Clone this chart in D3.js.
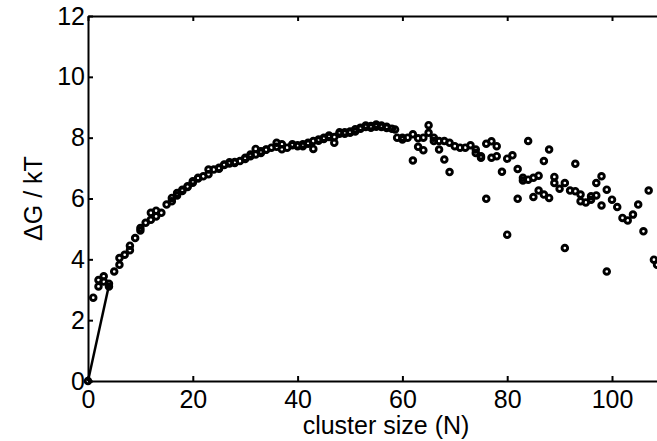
<!DOCTYPE html>
<html>
<head>
<meta charset="utf-8">
<script src="https://cdn.jsdelivr.net/npm/d3@7"></script>
<style>
  body { margin: 0; background: #fff; }
  svg { display: block; font-family: "Liberation Sans", Arial, sans-serif; }
</style>
</head>
<body>
<div id="chart"></div>
<script>
// run A: main curve, [cluster size N, dG/kT]
var runA = [
  [0, 0], [1, 2.74], [2, 3.11], [3, 3.27], [4, 3.11], [5, 3.60], [6, 3.82], [7, 4.15], [8, 4.45],
  [9, 4.70], [10, 4.95], [11, 5.20], [12, 5.30], [13, 5.41], [14, 5.53], [15, 5.80], [16, 5.91],
  [17, 6.10], [18, 6.25], [19, 6.38], [20, 6.52], [21, 6.66], [22, 6.73], [23, 6.80], [24, 6.95],
  [25, 7.01], [26, 7.10], [27, 7.19], [28, 7.20], [29, 7.23], [30, 7.30], [31, 7.39], [32, 7.45],
  [33, 7.55], [34, 7.61], [35, 7.67], [36, 7.70], [37, 7.78], [38, 7.67], [39, 7.75], [40, 7.72],
  [41, 7.78], [42, 7.83], [43, 7.89], [44, 7.94], [45, 7.96], [46, 8.07], [47, 8.02], [48, 8.18],
  [49, 8.13], [50, 8.16], [51, 8.20], [52, 8.29], [53, 8.40], [54, 8.38], [55, 8.36], [56, 8.40],
  [57, 8.36], [58, 8.29], [59, 8.00], [60, 7.94], [61, 8.00], [62, 8.11], [63, 7.98], [64, 8.00],
  [65, 8.41], [66, 8.00], [67, 7.61], [68, 7.89], [69, 7.83], [70, 7.72], [71, 7.67], [72, 7.67],
  [73, 7.75], [74, 7.61], [75, 7.39], [76, 7.80], [77, 7.88], [78, 7.72], [79, 6.88], [80, 7.31],
  [81, 7.42], [82, 6.97], [83, 6.68], [84, 7.89], [85, 6.68], [86, 6.75], [87, 7.23], [88, 7.61],
  [89, 6.71], [90, 6.32], [91, 6.51], [92, 6.26], [93, 6.24], [94, 6.13], [95, 5.87], [96, 5.96],
  [97, 6.10], [98, 6.73], [99, 6.29], [100, 5.96], [101, 5.72], [102, 5.36], [103, 5.28],
  [104, 5.47], [105, 5.80], [106, 4.92], [107, 6.26], [108, 3.99]
];

// run B: second set of points
var runB = [
  [2, 3.32], [3, 3.44], [4, 3.20], [6, 4.04], [8, 4.30], [10, 5.03], [12, 5.53], [13, 5.60],
  [16, 6.02], [17, 6.18], [18, 6.29], [19, 6.40], [20, 6.57], [21, 6.68], [23, 6.95], [25, 6.98],
  [26, 7.12], [27, 7.15], [28, 7.17], [30, 7.34], [31, 7.45], [32, 7.63], [33, 7.50], [34, 7.60],
  [36, 7.83], [37, 7.62], [39, 7.78], [40, 7.75], [41, 7.72], [42, 7.80], [43, 7.63], [44, 7.90],
  [45, 8.00], [46, 8.02], [47, 7.83], [48, 8.13], [49, 8.18], [50, 8.20], [51, 8.28], [52, 8.33],
  [53, 8.35], [54, 8.33], [55, 8.43], [56, 8.35], [57, 8.32], [58.6, 8.27], [60, 8.00],
  [62, 7.25], [63, 7.70], [64, 7.59], [65, 8.16], [66, 7.89], [67, 7.89], [68, 7.28], [69, 6.87],
  [74, 7.50], [75, 7.34], [76, 5.99], [77, 7.34], [78, 7.39], [80, 4.81], [82, 5.99], [83, 6.59],
  [84, 6.62], [85, 6.05], [86, 6.26], [87, 6.13], [88, 6.02], [89, 6.51], [91, 4.37], [93, 7.14],
  [94, 5.91], [96, 6.07], [97, 6.51], [98, 5.77], [99, 3.60], [108.6, 3.82]
];

// straight segment from the origin
var fitLine = [[0, 0], [4, 3.15]];

var xTicks = [0, 20, 40, 60, 80, 100];
var yTicks = [0, 2, 4, 6, 8, 10, 12];

var W = 657, H = 441;

var svg = d3.select("#chart").append("svg")
    .attr("width", W)
    .attr("height", H);

var x = d3.scaleLinear().domain([0, 110]).range([88, 88 + 110 * 5.24]);
var y = d3.scaleLinear().domain([0, 12]).range([381, 16]);

// axes, ticks pointing inward
var gx = svg.append("g")
    .attr("transform", "translate(0," + y(0) + ")")
    .call(d3.axisBottom(x).tickValues(xTicks).tickSizeInner(-5).tickSizeOuter(0).tickPadding(9));

var gxTop = svg.append("g")
    .attr("transform", "translate(0," + y(12) + ")")
    .call(d3.axisTop(x).tickValues(xTicks).tickSizeInner(-5).tickSizeOuter(0).tickFormat(""));

var gy = svg.append("g")
    .attr("transform", "translate(" + x(0) + ",0)")
    .call(d3.axisLeft(y).tickValues(yTicks).tickSizeInner(-5).tickSizeOuter(0).tickPadding(3));

[gx, gxTop, gy].forEach(function (g) {
    g.select(".domain").attr("stroke", "#000").attr("stroke-width", 2);
    g.selectAll(".tick line").attr("stroke", "#000").attr("stroke-width", 2);
    g.selectAll(".tick text")
        .attr("fill", "#000")
        .style("font-size", "25px")
        .style("font-family", "'Liberation Sans', Arial, sans-serif");
});

// axis labels
svg.append("text")
    .attr("x", 386)
    .attr("y", 434)
    .attr("text-anchor", "middle")
    .style("font-size", "25px")
    .text("cluster size (N)");

svg.append("text")
    .attr("transform", "translate(42," + (y(6)) + ") rotate(-90)")
    .attr("text-anchor", "middle")
    .style("font-size", "25px")
    .text("\u0394G / kT");

// line from origin
var line = d3.line()
    .x(d => x(d[0]))
    .y(d => y(d[1]));

svg.append("path")
    .datum(fitLine)
    .attr("fill", "none")
    .attr("stroke", "#000")
    .attr("stroke-width", 2.5)
    .attr("d", line);

// markers
var allPoints = runA.concat(runB);

svg.selectAll(".dot")
    .data(allPoints)
    .join("circle")
    .attr("class", "dot")
    .attr("cx", d => x(d[0]))
    .attr("cy", d => y(d[1]))
    .attr("r", 2.8)
    .attr("fill", "none")
    .attr("stroke", "#000")
    .attr("stroke-width", 2.9);
</script>
</body>
</html>
